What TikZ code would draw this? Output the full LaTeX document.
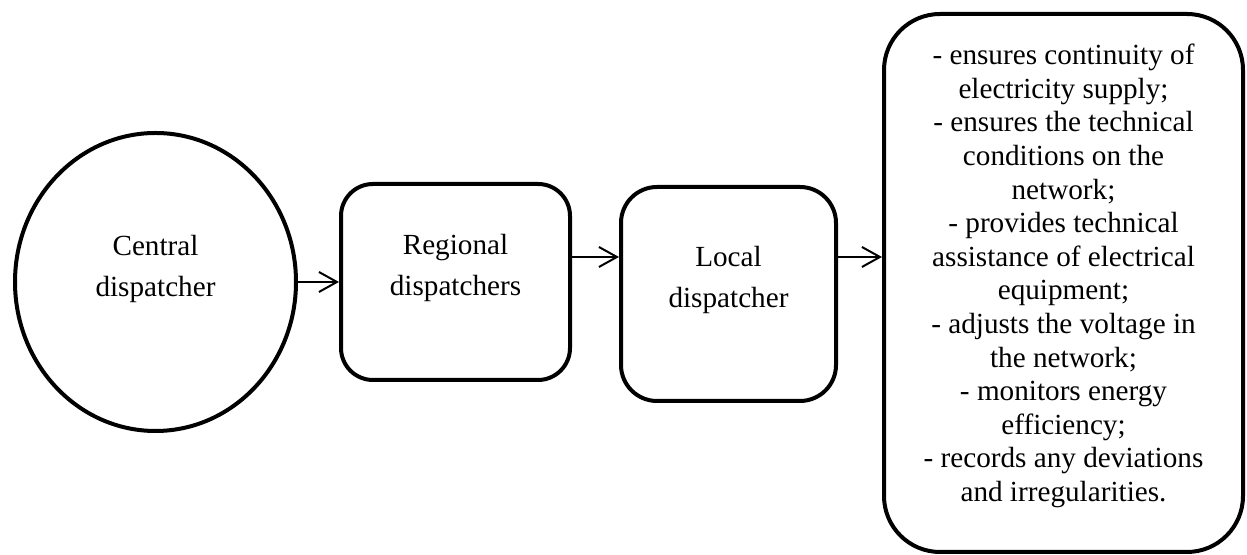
\documentclass[tikz,border=0pt]{standalone}
\usepackage{fontspec}
\setmainfont{Liberation Serif}
\usetikzlibrary{shapes.geometric,arrows.meta}
\newcommand{\boxfont}{\fontsize{14.6}{20.5}\selectfont}
\newcommand{\listfont}{\fontsize{14.6}{16.8}\selectfont}
\tikzstyle{unit} = [draw,line width=2pt,inner sep=0pt]
\tikzstyle{caption} = [align=center,font=\boxfont]

\begin{document}
\begin{tikzpicture}[x=0.5pt,y=0.5pt,>={Straight Barb[length=9pt,width=10pt]}]
	\useasboundingbox (0,0) rectangle (1247,555);
	\node[unit,ellipse,minimum width=140.5pt,minimum height=149pt] (central) at (155.5,273) {};
	\node[caption] (central-text) at ([yshift=6.5pt]central.center) {Central\\dispatcher};
	\node[unit,rounded corners=16pt,minimum width=114.5pt,minimum height=98pt] (regional) at (455.5,273) {};
	\node[caption] (regional-text) at ([yshift=7pt]regional.center) {Regional\\dispatchers};
	\node[unit,rounded corners=18pt,minimum width=107.5pt,minimum height=107pt] (local) at (728.5,261) {};
	\node[caption] (local-text) at ([yshift=7pt]local.center) {Local\\dispatcher};
	\node[unit,rounded corners=28pt,minimum width=179.5pt,minimum height=269pt] (duties) at (1063.5,272) {};
	\node[align=center,font=\listfont] (duties-text) at ([yshift=3.5pt]duties.center) {%
		- ensures continuity of\\ electricity supply;\\
		- ensures the technical\\ conditions on the\\ network;\\
		- provides technical\\ assistance of electrical\\ equipment;\\
		- adjusts the voltage in\\ the network;\\
		- monitors energy\\ efficiency;\\
		- records any deviations\\ and irregularities.};
	\coordinate (lane) at ([yshift=12.5pt]regional.east);
	\draw[->,line width=1pt] (central) -- (regional);
	\draw[->,line width=1pt] (lane) -- (lane -| local.west);
	\draw[->,line width=1pt] (lane -| local.east) -- (lane -| duties.west);
\end{tikzpicture}
\end{document}
